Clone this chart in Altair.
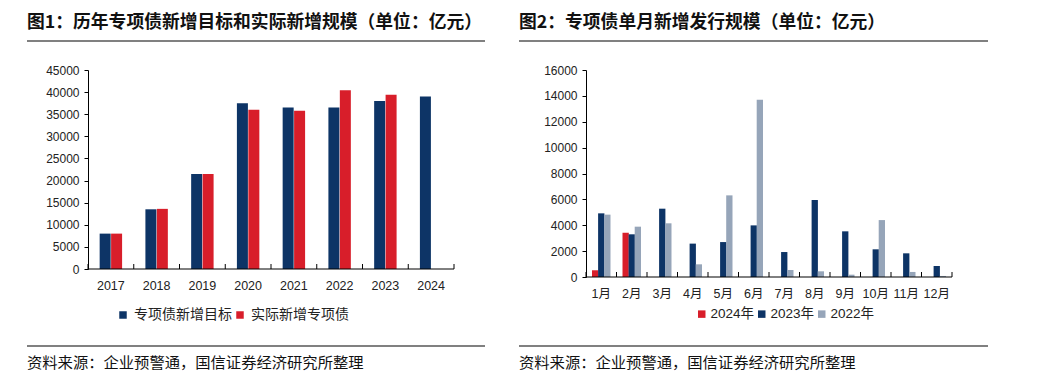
import altair as alt
import pandas as pd

# ---------------- data ----------------
years = ["2017", "2018", "2019", "2020", "2021", "2022", "2023", "2024"]
target = [8000, 13500, 21500, 37500, 36500, 36500, 38000, 39000]
actual = [8000, 13600, 21500, 36000, 35800, 40400, 39400, None]
series1 = ["专项债新增目标", "实际新增专项债"]

months = ["1月", "2月", "3月", "4月", "5月", "6月", "7月", "8月", "9月", "10月", "11月", "12月"]
v2024 = [520, 3420, None, None, None, None, None, None, None, None, None, None]
v2023 = [4920, 3300, 5280, 2580, 2700, 3990, 1930, 5950, 3530, 2140, 1830, 850]
v2022 = [4820, 3890, 4150, 980, 6310, 13700, 540, 440, 180, 4400, 390, 80]
series2 = ["2024年", "2023年", "2022年"]

title1 = "图1：历年专项债新增目标和实际新增规模（单位：亿元）"
title2 = "图2：专项债单月新增发行规模（单位：亿元）"
source = "资料来源：企业预警通，国信证券经济研究所整理"

NAVY = "#0d3466"
RED = "#d81e2a"
GRAY = "#96a5b9"
LINE = "#808080"
CJK = "Noto Sans CJK SC"
LAT = "Liberation Sans, Noto Sans CJK SC"


def slots_for(cats, nslots):
    return [f"{c}#{k}" for c in cats for k in range(nslots)]


def long_frame(cats, series, columns):
    rows = []
    for ci, c in enumerate(cats):
        for si, s in enumerate(series):
            v = columns[si][ci]
            if v is not None:
                rows.append({"cat": c, "slot": f"{c}#{si + 1}", "series": s, "value": v})
    return pd.DataFrame(rows)


df1 = long_frame(years, series1, [target, actual])
df2 = long_frame(months, series2, [v2024, v2023, v2022])
one = pd.DataFrame({"k": [0]})


def panel(df, cats, series, colors, nslots, lab_slot, lab_band, bar_w,
          ymax, ystep, W, H, title, left, right, legx, legy, legfs, legfont,
          colpad, laboff):
    slots = slots_for(cats, nslots)
    xscale = alt.Scale(type="band", domain=slots, paddingInner=0, paddingOuter=0)
    yscale = alt.Scale(domain=[0, ymax], nice=False)
    bars = alt.Chart(df).mark_bar(width=bar_w).encode(
        x=alt.X("slot:N", scale=xscale, axis=None),
        y=alt.Y("value:Q", scale=yscale,
                axis=alt.Axis(title=None, values=list(range(0, ymax + 1, ystep)), format="d",
                              grid=False, domainColor="#000", tickColor="#000", tickSize=4,
                              labelPadding=5, labelFontSize=12, labelFont=LAT,
                              labelColor="#222")),
        color=alt.Color("series:N", sort=series,
                        scale=alt.Scale(domain=series, range=colors),
                        legend=alt.Legend(title=None, orient="none", legendX=legx, legendY=legy,
                                          direction="horizontal", symbolType="square",
                                          symbolSize=56, symbolStrokeWidth=0,
                                          labelFontSize=legfs, labelFont=legfont,
                                          labelColor="#222", columnPadding=colpad,
                                          labelOffset=laboff, padding=0)),
    )
    catdf = pd.DataFrame({"cat": cats, "first": [f"{c}#0" for c in cats],
                          "mid": [f"{c}#{lab_slot}" for c in cats]})
    labels = alt.Chart(catdf).mark_text(baseline="middle", align="center", fontSize=12.5,
                                        font=LAT, color="#222").encode(
        x=alt.X("mid:N", scale=xscale, bandPosition=lab_band, axis=None),
        y=alt.value(H + 17), text="cat:N")
    ticks = alt.Chart(catdf).mark_rule(color="#000", strokeWidth=1).encode(
        x=alt.X("first:N", scale=xscale, bandPosition=0, axis=None),
        y=alt.value(H), y2=alt.value(H - 5))
    end_tick = alt.Chart(one).mark_rule(color="#000", strokeWidth=1).encode(
        x=alt.value(W), y=alt.value(H), y2=alt.value(H - 5))
    baseline = alt.Chart(one).mark_rule(color="#000", strokeWidth=1).encode(
        x=alt.value(0), x2=alt.value(W), y=alt.value(H))
    anchor = alt.Chart(one).mark_rule(color="#ffffff", strokeWidth=1).encode(
        x=alt.value(left + 2), x2=alt.value(left + 3), y=alt.value(-61.5))
    ttl = alt.Chart(one).mark_text(align="left", baseline="middle", fontSize=17.8,
                                   fontWeight="bold", font=CJK, color="#111").encode(
        x=alt.value(left), y=alt.value(-47), text=alt.value(title))
    uline = alt.Chart(one).mark_rule(color=LINE, strokeWidth=2).encode(
        x=alt.value(left), x2=alt.value(right), y=alt.value(-29))
    fline = alt.Chart(one).mark_rule(color=LINE, strokeWidth=2).encode(
        x=alt.value(left), x2=alt.value(right), y=alt.value(276))
    ftxt = alt.Chart(one).mark_text(align="left", baseline="middle", fontSize=15.3,
                                    font=CJK, color="#111").encode(
        x=alt.value(left), y=alt.value(293), text=alt.value(source))
    return alt.layer(bars, labels, ticks, end_tick, baseline, anchor, ttl, uline, fline,
                     ftxt).properties(width=W, height=H)


left_panel = panel(df1, years, series1, [NAVY, RED], 4, 1, 1, 11,
                   45000, 5000, 366, 199, title1, -61, 397, 28, 238, 14, CJK, 1, 4)
right_panel = panel(df2, months, series2, [RED, NAVY, GRAY], 5, 2, 0.5, 6.3,
                    16000, 2000, 366, 207, title2, -67, 402, 109, 237, 13.5, LAT, 0, 2)

chart = alt.hconcat(left_panel, right_panel, spacing=32).resolve_scale(
    color="independent"
).properties(
    padding={"left": 18, "top": 0, "right": 0, "bottom": 0},
    background="#ffffff",
).configure_view(stroke=None)

chart.save("out.html", embed_options={"renderer": "svg", "actions": False})
